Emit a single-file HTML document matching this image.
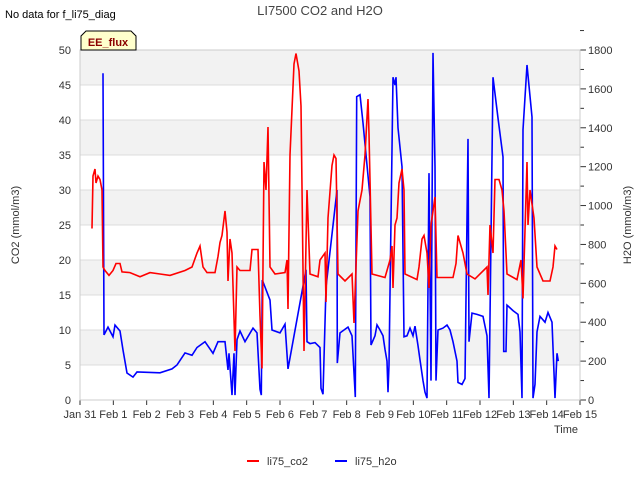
<!DOCTYPE html>
<html><head><meta charset="utf-8"><style>
body{margin:0;background:#fff;font-family:"Liberation Sans","DejaVu Sans",sans-serif;}
svg text{font-family:"Liberation Sans","DejaVu Sans",sans-serif;}
</style></head><body>
<svg id="chart" width="640" height="480" viewBox="0 0 640 480" xmlns="http://www.w3.org/2000/svg">
<text x="5" y="18" font-size="11" fill="#000">No data for f_li75_diag</text>
<text x="320" y="15" font-size="13" fill="#444" text-anchor="middle">LI7500 CO2 and H2O</text>
<g id="bands"></g>
<g id="grid"></g>
<g id="axes"></g>
<g id="series"></g>
<g>
<path d="M81,50 L81,36 L86,31 L131,31 L136,36 L136,50 Z" fill="#ffffcc" stroke="#000" stroke-width="1"/>
<text x="108" y="46" font-size="11" font-weight="bold" fill="#8b0000" text-anchor="middle">EE_flux</text>
</g>
<text transform="translate(19,225) rotate(-90)" font-size="11" text-anchor="middle" fill="#333">CO2 (mmol/m3)</text>
<text transform="translate(631,225) rotate(-90)" font-size="11" text-anchor="middle" fill="#333">H2O (mmol/m3)</text>
<text x="578" y="433" font-size="11" text-anchor="end" fill="#333">Time</text>
<g>
<g><line x1="247" y1="461" x2="259" y2="461" stroke="#f00" stroke-width="2"/><text x="267" y="465" font-size="11" fill="#333">li75_co2</text></g>
<g><line x1="335" y1="461" x2="347" y2="461" stroke="#00f" stroke-width="2"/><text x="355" y="465" font-size="11" fill="#333">li75_h2o</text></g>
</g>
</svg>
<script>
const xTickLabels=["Jan 31","Feb 1","Feb 2","Feb 3","Feb 4","Feb 5","Feb 6","Feb 7","Feb 8","Feb 9","Feb 10","Feb 11","Feb 12","Feb 13","Feb 14","Feb 15"];
const leftTicks=[0,5,10,15,20,25,30,35,40,45,50];
const rightTicks=[0,200,400,600,800,1000,1200,1400,1600,1800];
const co2Days=[0.36,0.39,0.45,0.48,0.54,0.6,0.66,0.69,0.75,0.87,0.99,1.08,1.2,1.26,1.5,1.8,2.1,2.4,2.7,3.15,3.36,3.51,3.6,3.69,3.81,4.05,4.14,4.2,4.26,4.35,4.41,4.44,4.5,4.56,4.65,4.71,4.8,5.1,5.16,5.34,5.4,5.46,5.52,5.58,5.64,5.7,5.85,6.15,6.21,6.24,6.3,6.42,6.48,6.57,6.63,6.72,6.81,6.9,7.14,7.2,7.35,7.38,7.44,7.56,7.62,7.68,7.74,7.95,8.16,8.22,8.34,8.46,8.55,8.64,8.67,8.76,9.15,9.3,9.36,9.39,9.45,9.51,9.57,9.66,9.72,9.75,10.11,10.17,10.26,10.32,10.41,10.47,10.53,10.65,10.71,11.19,11.28,11.34,11.49,11.61,11.85,12.21,12.24,12.3,12.39,12.45,12.57,12.66,12.72,12.81,13.11,13.23,13.29,13.41,13.44,13.5,13.62,13.71,13.89,14.1,14.19,14.25,14.31];
const co2Vals=[24.5,32,33,31,32,31.5,30,19,18.5,17.8,18.5,19.5,19.5,18.3,18.2,17.6,18.2,18,17.8,18.5,19,21,22,19,18.2,18.2,20.5,22.5,23.5,27,24,17,23,21,7,19,18.5,18.5,21.5,21.5,12,4.5,34,30,39,19,18,18.2,20,13,35,48,49.5,47,42,7,30,18,17.6,20,21,14,26,33.5,35,34.5,18,17,18,11,27,30,35,43,38,18,17.5,20,22,16,25,26,31,33,30,18,17.2,19,23,23.5,21,16,25,29,17.5,17.5,19.5,23.5,21,18,17.3,19,15,25,21,31.5,31.5,30,27,18,17.2,20,14.5,34,25,30,26,19,17,17,19,22,21.5];
const h2oDays=[0.69,0.72,0.84,0.99,1.05,1.2,1.29,1.41,1.59,1.71,2.4,2.76,2.91,3.15,3.36,3.51,3.75,3.99,4.14,4.35,4.44,4.47,4.56,4.62,4.65,4.71,4.8,4.95,5.19,5.31,5.4,5.44,5.47,5.7,5.76,6.0,6.15,6.24,6.78,6.81,6.9,7.05,7.2,7.23,7.29,7.38,7.71,7.72,7.8,8.04,8.16,8.22,8.26,8.3,8.4,8.49,8.7,8.73,8.85,8.91,9.0,9.09,9.15,9.21,9.24,9.27,9.39,9.45,9.48,9.54,9.66,9.72,9.81,9.9,9.99,10.05,10.14,10.2,10.29,10.35,10.41,10.47,10.53,10.59,10.65,10.68,10.74,10.89,11.01,11.1,11.19,11.31,11.34,11.46,11.55,11.64,11.67,11.76,11.91,12.09,12.21,12.27,12.39,12.54,12.69,12.71,12.78,12.81,12.99,13.14,13.2,13.26,13.29,13.41,13.56,13.59,13.65,13.71,13.8,13.95,14.04,14.16,14.25,14.31,14.35];
const h2oVals=[1680,335,375,325,385,355,257,139,118,144,140,160,180,242,230,270,300,240,300,300,155,240,25,240,25,310,355,300,370,345,55,25,617,514,360,345,390,160,670,300,290,295,270,60,30,580,1080,190,345,375,330,140,15,1560,1570,1425,1045,283,330,386,360,330,260,200,40,180,1660,1620,1660,1400,1200,325,330,370,330,380,280,206,100,40,10,1167,100,1785,1200,100,360,370,385,360,300,200,90,80,110,1343,300,447,440,430,330,10,1660,1450,1250,250,250,488,460,440,350,10,1390,1723,1455,10,80,350,430,400,450,400,10,240,200];

const NS="http://www.w3.org/2000/svg";
const L=80,R=580,T=50,B=400;
const xs=d=>L+d*(R-L)/15;
const yl=v=>B-v*(B-T)/50;
const yr=v=>B-v*(B-T)/1800;
function mk(tag,attrs,parent){const e=document.createElementNS(NS,tag);for(const k in attrs)e.setAttribute(k,attrs[k]);parent.appendChild(e);return e;}
const bands=document.getElementById('bands'),grid=document.getElementById('grid'),axes=document.getElementById('axes'),series=document.getElementById('series');
for(let i=0;i<leftTicks.length-1;i++){
  if(i%2===1){const r=mk('rect',{x:L,y:yl(leftTicks[i+1]),width:R-L,height:yl(leftTicks[i])-yl(leftTicks[i+1]),fill:'#f2f2f2'},bands);
  
  }
}
leftTicks.forEach(v=>{
  const g=mk('line',{x1:L,x2:R,y1:yl(v),y2:yl(v),stroke:'#dcdcdc','stroke-width':1},grid);
  
  
  const t=mk('text',{x:L-9,y:yl(v)+4,'font-size':11,'text-anchor':'end',fill:'#333'},axes);t.textContent=v;
  
  
});
rightTicks.forEach(v=>{
  mk('line',{x1:R,x2:R+6,y1:yr(v),y2:yr(v),stroke:'#333'},axes);
  mk('line',{x1:R,x2:R+4,y1:yr(v+100),y2:yr(v+100),stroke:'#333'},axes);
  const t=mk('text',{x:R+8,y:yr(v)+4,'font-size':11,fill:'#333'},axes);t.textContent=v;
  
  
});
xTickLabels.forEach((s,i)=>{
  mk('line',{x1:xs(i),x2:xs(i),y1:B,y2:B+5,stroke:'#333'},axes);
  const t=mk('text',{x:xs(i),y:B+18,'font-size':11,'text-anchor':'middle',fill:'#333'},axes);t.textContent=s;
  
  
});
mk('rect',{x:L,y:T,width:R-L,height:B-T,fill:'none',stroke:'#ccc'},axes);
const h=mk('polyline',{points:h2oDays.map((d,i)=>xs(d).toFixed(1)+','+yr(h2oVals[i]).toFixed(1)).join(' '),fill:'none',stroke:'#00f','stroke-width':1.6},series);


const c=mk('polyline',{points:co2Days.map((d,i)=>xs(d).toFixed(1)+','+yl(co2Vals[i]).toFixed(1)).join(' '),fill:'none',stroke:'#f00','stroke-width':1.6},series);


</script>
</body></html>
